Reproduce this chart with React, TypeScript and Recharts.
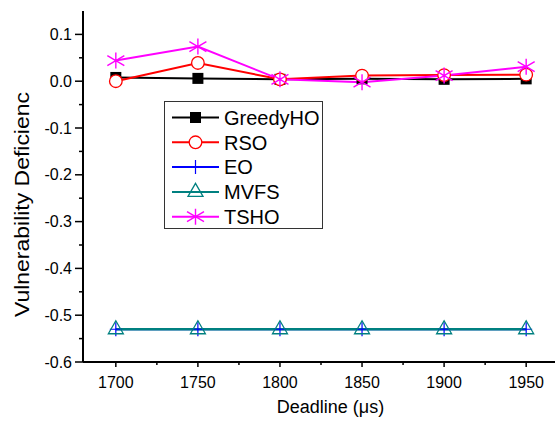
import React from 'react';
import { LineChart, Line, XAxis, YAxis, Legend, Label } from 'recharts';

// values
const deadlines = [1700, 1750, 1800, 1850, 1900, 1950];
const greedyHO = [0.008, 0.006, 0.004, 0.005, 0.004, 0.005];
const rso = [0.0, 0.039, 0.004, 0.012, 0.013, 0.014];
const eo = [-0.53, -0.53, -0.53, -0.53, -0.53, -0.53];
const mvfs = [-0.53, -0.53, -0.53, -0.53, -0.53, -0.53];
const tsho = [0.044, 0.074, 0.004, -0.002, 0.012, 0.031];

const xMajorTicks = [1700, 1750, 1800, 1850, 1900, 1950];
const xMinorTicks = [1725, 1775, 1825, 1875, 1925];
const yMajorTicks = [-0.6, -0.5, -0.4, -0.3, -0.2, -0.1, 0, 0.1];
const yMinorTicks = [-0.55, -0.45, -0.35, -0.25, -0.15, -0.05, 0.05];

const FONT = '"Liberation Sans", Arial, sans-serif';

const series = [
    { key: 'GreedyHO', values: greedyHO, color: '#000000', marker: 'square', width: 2 },
    { key: 'RSO', values: rso, color: '#ff0000', marker: 'circle', width: 2 },
    { key: 'EO', values: eo, color: '#0000ff', marker: 'plus', width: 2 },
    { key: 'MVFS', values: mvfs, color: '#008080', marker: 'triangle', width: 2.5 },
    { key: 'TSHO', values: tsho, color: '#ff00ff', marker: 'star', width: 2 },
];

const data = deadlines.map((d, i) => {
    const row: any = { deadline: d };
    series.forEach((s) => { row[s.key] = s.values[i]; });
    return row;
});

function Marker({ kind, cx, cy, color }: { kind: string; cx: number; cy: number; color: string }) {
    if (cx == null || cy == null) return null;
    switch (kind) {
        case 'square':
            return <rect x={cx - 5.5} y={cy - 5.5} width={11} height={11} fill={color} />;
        case 'circle':
            return <circle cx={cx} cy={cy} r={6.3} fill="#fff" stroke={color} strokeWidth={1.3} />;
        case 'plus':
            return <path d={`M${cx - 6},${cy}H${cx + 6}M${cx},${cy - 7}V${cy + 7}`} stroke={color} strokeWidth={1.2} fill="none" />;
        case 'triangle':
            return <path d={`M${cx},${cy - 8.5}L${cx + 7.5},${cy + 4.5}L${cx - 7.5},${cy + 4.5}Z`} stroke={color} strokeWidth={1.3} fill="none" />;
        case 'star':
            return (
                <path
                    d={`M${cx},${cy - 8}V${cy + 8}M${cx - 8.5},${cy - 5}L${cx + 8.5},${cy + 5}M${cx - 8.5},${cy + 5}L${cx + 8.5},${cy - 5}`}
                    stroke={color}
                    strokeWidth={1.4}
                    fill="none"
                />
            );
        default:
            return null;
    }
}

function XTick(props: any) {
    const { x, y, payload } = props;
    const major = xMajorTicks.includes(payload.value);
    const y0 = y - 15;
    return (
        <g>
            <line x1={x} x2={x} y1={y0} y2={y0 + (major ? 5 : 3)} stroke="#000" strokeWidth={1.5} />
            {major && (
                <text x={x} y={y} dy="0.71em" textAnchor="middle" fontSize={16} fontFamily={FONT} fill="#000">
                    {payload.value}
                </text>
            )}
        </g>
    );
}

function YTick(props: any) {
    const { x, y, payload } = props;
    const major = yMajorTicks.includes(payload.value);
    const x0 = x + 11;
    return (
        <g>
            <line x1={x0} x2={x0 - (major ? 8 : 4)} y1={y} y2={y} stroke="#000" strokeWidth={1.5} />
            {major && (
                <text x={x} y={y} dy="0.355em" textAnchor="end" fontSize={16} fontFamily={FONT} fill="#000">
                    {payload.value.toFixed(1)}
                </text>
            )}
        </g>
    );
}

function LegendBox() {
    return (
        <div style={{ width: 159, height: 128, border: '1.5px solid #333', background: '#fff', boxSizing: 'border-box' }}>
            <svg width={156} height={125} style={{ display: 'block' }}>
                {series.map((s, i) => {
                    const y = 15.5 + i * 24.8;
                    return (
                        <g key={s.key}>
                            <line x1={7} x2={54} y1={y} y2={y} stroke={s.color} strokeWidth={2} />
                            <Marker kind={s.marker} cx={30.5} cy={y} color={s.color} />
                            <text x={59} y={y} dy="0.36em" fontSize={20} fontFamily={FONT} fill="#000">
                                {s.key}
                            </text>
                        </g>
                    );
                })}
            </svg>
        </div>
    );
}

export default function App() {
    return (
        <div style={{ position: 'absolute', left: 0, top: 0, width: 555, height: 425, overflow: 'hidden', background: '#fff' }}>
            <LineChart width={580} height={425} data={data} margin={{ top: 11, right: 21, bottom: 0, left: 0 }}>
                <XAxis
                    dataKey="deadline"
                    type="number"
                    domain={[1680, 1970]}
                    ticks={[...xMajorTicks, ...xMinorTicks].sort((a, b) => a - b)}
                    interval={0}
                    tickLine={false}
                    tickSize={5}
                    tickMargin={10}
                    tick={<XTick />}
                    axisLine={{ stroke: '#000', strokeWidth: 2 }}
                    height={63}
                >
                    <Label
                        content={() => (
                            <text x={330.5} y={412.5} textAnchor="middle" fontSize={18} fontFamily={FONT} fill="#000">
                                Deadline (μs)
                            </text>
                        )}
                    />
                </XAxis>
                <XAxis
                    xAxisId="top"
                    orientation="top"
                    dataKey="deadline"
                    type="number"
                    domain={[1680, 1970]}
                    tick={false}
                    tickLine={false}
                    axisLine={{ stroke: '#000', strokeWidth: 2 }}
                    height={0}
                />
                <YAxis
                    type="number"
                    domain={[-0.6, 0.15]}
                    ticks={[...yMajorTicks, ...yMinorTicks].sort((a, b) => a - b)}
                    interval={0}
                    tickLine={false}
                    tickSize={8}
                    tickMargin={3}
                    tick={<YTick />}
                    axisLine={{ stroke: '#000', strokeWidth: 2 }}
                    width={83}
                >
                    <Label
                        content={() => (
                            <text
                                x={28.5}
                                y={204.5}
                                transform="rotate(-90 28.5 204.5)"
                                textAnchor="middle"
                                fontSize={21}
                                fontFamily={FONT}
                                textLength={225}
                                lengthAdjust="spacingAndGlyphs"
                                fill="#000"
                            >
                                Vulnerability Deficienc
                            </text>
                        )}
                    />
                </YAxis>
                <Legend
                    layout="vertical"
                    align="center"
                    verticalAlign="middle"
                    wrapperStyle={{ left: 164, top: 101, width: 159, height: 128 }}
                    content={() => <LegendBox />}
                />
                {series.map((s) => (
                    <Line
                        key={s.key}
                        dataKey={s.key}
                        stroke={s.color}
                        strokeWidth={s.width}
                        isAnimationActive={false}
                        activeDot={false}
                        dot={(p: any) => <Marker key={`${s.key}-${p.index}`} kind={s.marker} cx={p.cx} cy={p.cy} color={s.color} />}
                    />
                ))}
            </LineChart>
        </div>
    );
}
